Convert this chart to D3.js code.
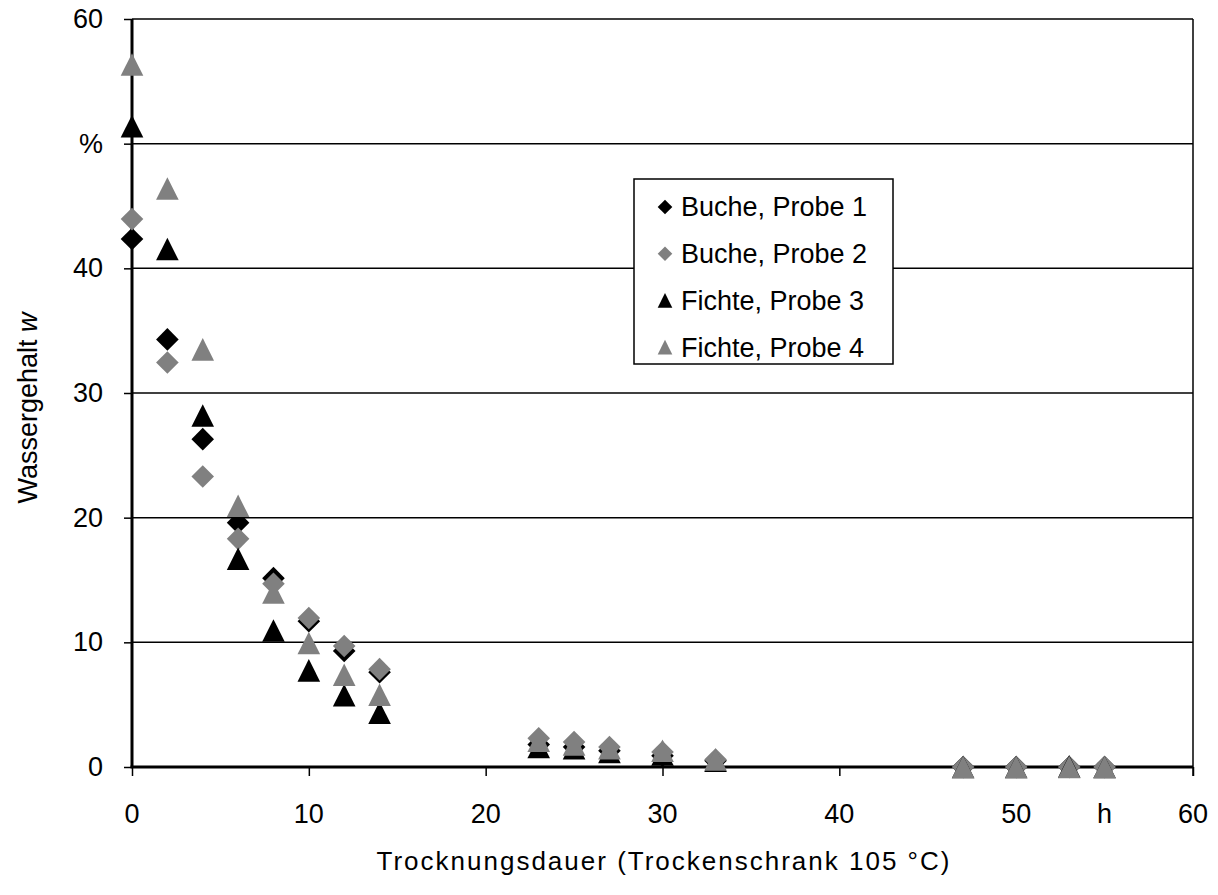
<!DOCTYPE html>
<html><head><meta charset="utf-8">
<script src="https://cdn.jsdelivr.net/npm/d3@7"></script>
<style>body{margin:0;background:#fff} text{font-family:"Liberation Sans",Arial,Helvetica,sans-serif;fill:#000}</style>
</head><body><svg id="c" width="1218" height="895"></svg>
<script>
// ---- data ----
const hours   = [0, 2, 4, 6, 8, 10, 12, 14, 23, 25, 27, 30, 33, 47, 50, 53, 55];
const buche1  = [42.35, 34.3, 26.3, 19.6, 15.15, 11.7, 9.3, 7.6, 1.8, 1.6, 1.3, 0.9, 0.5, 0, 0, 0, 0];
const buche2  = [43.95, 32.45, 23.3, 18.3, 14.7, 11.95, 9.7, 7.85, 2.3, 2.0, 1.6, 1.2, 0.6, 0, 0, 0, 0];
const fichte3 = [51.4, 41.55, 28.2, 16.7, 10.95, 7.75, 5.75, 4.35, 1.6, 1.5, 1.2, 1.0, 0.5, 0, 0, 0.05, 0];
const fichte4 = [56.35, 46.4, 33.5, 20.95, 14.0, 9.95, 7.4, 5.8, 2.1, 1.8, 1.5, 1.3, 0.6, 0, 0, 0, 0];
const seriesNames = ["Buche, Probe 1", "Buche, Probe 2", "Fichte, Probe 3", "Fichte, Probe 4"];
const yTickValues = [0, 10, 20, 30, 40, 50, 60];
const yTickLabels = ["0", "10", "20", "30", "40", "%", "60"];
const xTickValues = [0, 10, 20, 30, 40, 50, 60];
const xLabelValues = [0, 10, 20, 30, 40, 50, 55, 60];
const xLabelTexts  = ["0", "10", "20", "30", "40", "50", "h", "60"];

// ---- styles ----
const seriesValues = [buche1, buche2, fichte3, fichte4];
const seriesColor = ["#000000", "#808080", "#000000", "#808080"];
const seriesShape = ["diamond", "diamond", "triangle", "triangle"];

const svg = d3.select("#c");
const x = d3.scaleLinear().domain([0, 60]).range([132, 1193]);
const y = d3.scaleLinear().domain([0, 60]).range([767, 19]);

function shapePath(shape, r) {
  if (shape === "diamond") return `M0,${-r}L${r},0L0,${r}L${-r},0Z`;
  return `M0,${-r}L${r},${r}L${-r},${r}Z`;
}

// gridlines + frame
svg.append("g").selectAll("line").data(yTickValues.filter(d => d > 0)).join("line")
  .attr("x1", x(0)).attr("x2", x(60)).attr("y1", d => y(d)).attr("y2", d => y(d))
  .attr("stroke", "#000").attr("stroke-width", 1.5);
svg.append("line").attr("x1", x(60)).attr("x2", x(60)).attr("y1", y(60)).attr("y2", y(0) + 9)
  .attr("stroke", "#000").attr("stroke-width", 1.5);

// y axis
const yAxis = svg.append("g").attr("transform", `translate(${x(0)},0)`)
  .call(d3.axisLeft(y).tickValues(yTickValues).tickSize(8).tickPadding(21)
    .tickFormat((d, i) => yTickLabels[i]));
yAxis.select(".domain").remove();
yAxis.selectAll(".tick line").attr("stroke", "#000").attr("stroke-width", 1.5);
yAxis.selectAll(".tick text").style("font-size", "27px").attr("font-family", null);
svg.append("line").attr("x1", x(0)).attr("x2", x(0)).attr("y1", y(60)).attr("y2", y(0))
  .attr("stroke", "#000").attr("stroke-width", 3);

// x axis
const xAxis = svg.append("g").attr("transform", `translate(0,${y(0)})`)
  .call(d3.axisBottom(x).tickValues(xTickValues).tickSize(9).tickFormat(""));
xAxis.select(".domain").remove();
xAxis.selectAll(".tick line").attr("stroke", "#000").attr("stroke-width", 1.5);
svg.append("line").attr("x1", x(0) - 1.5).attr("x2", x(60)).attr("y1", y(0)).attr("y2", y(0))
  .attr("stroke", "#000").attr("stroke-width", 3);
svg.append("g").selectAll("text").data(xLabelValues).join("text")
  .attr("x", d => x(d)).attr("y", 823).attr("text-anchor", "middle")
  .style("font-size", "27px").text((d, i) => xLabelTexts[i]);

// markers
seriesValues.forEach((vals, s) => {
  svg.append("g").selectAll("path").data(hours.map((h, i) => [h, vals[i]])).join("path")
    .attr("transform", d => `translate(${x(d[0])},${y(d[1])})`)
    .attr("d", shapePath(seriesShape[s], 11.3))
    .attr("fill", seriesColor[s]);
});

// axis titles
const yt = svg.append("text").attr("transform", "translate(37,408) rotate(-90)")
  .attr("text-anchor", "middle").style("font-size", "27px");
yt.append("tspan").text("Wassergehalt ");
yt.append("tspan").attr("font-style", "italic").text("w");
svg.append("text").attr("x", 664).attr("y", 870).attr("text-anchor", "middle")
  .style("font-size", "26px").style("letter-spacing", "2px")
  .text("Trocknungsdauer (Trockenschrank 105 °C)");

// legend
const lg = svg.append("g");
lg.append("rect").attr("x", 634).attr("y", 179).attr("width", 259).attr("height", 185)
  .attr("fill", "#fff").attr("stroke", "#000").attr("stroke-width", 1.5);
seriesNames.forEach((name, i) => {
  const cy = 207 + i * 46.7;
  lg.append("path").attr("transform", `translate(665,${cy})`)
    .attr("d", shapePath(seriesShape[i], 7.3)).attr("fill", seriesColor[i]);
  lg.append("text").attr("x", 681).attr("y", cy).attr("dy", "0.35em")
    .style("font-size", "27px").text(name);
});
</script></body></html>
